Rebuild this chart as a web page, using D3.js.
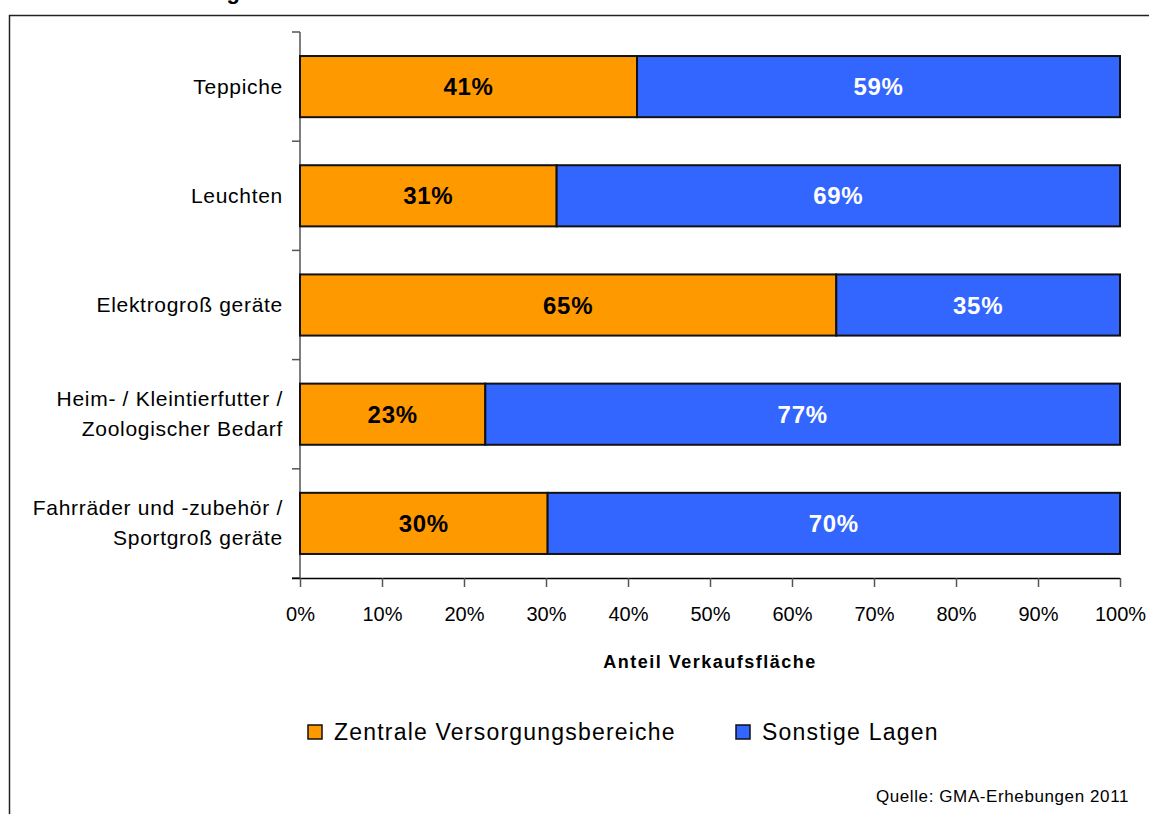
<!DOCTYPE html>
<html>
<head>
<meta charset="utf-8">
<script src="https://cdn.jsdelivr.net/npm/d3@7"></script>
<style>
  body { margin: 0; background: #fff; }
  svg { display: block; font-family: "Liberation Sans", Arial, sans-serif; }
</style>
</head>
<body>
<div id="vis-container"></div>
<script>
// Categories (top to bottom), label lines
const categories = ["Teppiche", "Leuchten", "Elektrogroßgeräte", "Heim-/Kleintierfutter", "Fahrräder"];
const categoryLines = [
  ["Teppiche"],
  ["Leuchten"],
  ["Elektrogroß geräte"],
  ["Heim- / Kleintierfutter /", "Zoologischer Bedarf"],
  ["Fahrräder und -zubehör /", "Sportgroß geräte"]
];
// Share of sales area in percent
const zentral = [41.1, 31.3, 65.4, 22.6, 30.2];
const sonstige = [58.9, 68.7, 34.6, 77.4, 69.8];
const zentralLabels = ["41%", "31%", "65%", "23%", "30%"];
const sonstigeLabels = ["59%", "69%", "35%", "77%", "70%"];
const xTicks = [0, 10, 20, 30, 40, 50, 60, 70, 80, 90, 100];
const seriesNames = ["Zentrale Versorgungsbereiche", "Sonstige Lagen"];
const seriesColors = ["#FF9900", "#3366FF"];

const width = 1149, height = 814;
const margin = { top: 32, right: 29, bottom: 236, left: 300 };

const svg = d3.select("#vis-container")
  .append("svg")
  .attr("width", width)
  .attr("height", height);

// title (cut off at the top, as in the original) and frame
svg.append("text")
  .attr("x", 120)
  .attr("y", -1)
  .attr("font-size", "22px")
  .attr("font-weight", "bold")
  .attr("letter-spacing", "1.5px")
  .text("Verteilung nach Stadtteilen");

svg.append("rect")
  .attr("x", 9.5)
  .attr("y", 15.5)
  .attr("width", 1200)
  .attr("height", 900)
  .attr("fill", "none")
  .attr("stroke", "#222")
  .attr("stroke-width", 1.5);

// Scales
const xScale = d3.scaleLinear()
  .domain([0, 100])
  .range([margin.left, width - margin.right]);

const yScale = d3.scaleBand()
  .domain(categories)
  .range([margin.top, height - margin.bottom])
  .paddingInner(0.44)
  .paddingOuter(0.22);

// band boundaries for y ticks
const step = yScale.step();
const bandEdges = d3.range(categories.length + 1).map(i => margin.top + i * step);

// Y axis line + ticks between categories
svg.append("line")
  .attr("x1", margin.left).attr("x2", margin.left)
  .attr("y1", margin.top).attr("y2", height - margin.bottom)
  .attr("stroke", "#555").attr("stroke-width", 1.5);

svg.selectAll(".ytick")
  .data(bandEdges)
  .enter()
  .append("line")
  .attr("class", "ytick")
  .attr("x1", margin.left - 8).attr("x2", margin.left)
  .attr("y1", d => d).attr("y2", d => d)
  .attr("stroke", "#555").attr("stroke-width", 1.5);

// Y labels
svg.selectAll(".ylabel")
  .data(categories)
  .enter()
  .append("text")
  .attr("class", "ylabel")
  .attr("text-anchor", "end")
  .attr("font-size", "21px")
  .attr("letter-spacing", "0.7px")
  .attr("fill", "#000")
  .each(function(d, i) {
    const lines = categoryLines[i];
    const cy = yScale(d) + yScale.bandwidth() / 2;
    const lh = 30;
    const y0 = cy - (lines.length - 1) * lh / 2 + 7;
    d3.select(this).selectAll("tspan")
      .data(lines)
      .enter()
      .append("tspan")
      .attr("x", margin.left - 17)
      .attr("y", (l, j) => y0 + j * lh)
      .text(l => l);
  });

// X axis
const xAxis = svg.append("g")
  .attr("transform", `translate(0,${height - margin.bottom})`)
  .call(d3.axisBottom(xScale)
    .tickValues(xTicks)
    .tickFormat(d => d + "%")
    .tickSize(9)
    .tickSizeOuter(0)
    .tickPadding(20));
xAxis.select(".domain")
  .attr("d", `M${margin.left - 8},0.5H${width - margin.right}`)
  .attr("stroke", "#000").attr("stroke-width", 1.5);
xAxis.selectAll(".tick line").attr("stroke", "#555").attr("stroke-width", 1.5);
xAxis.selectAll(".tick text")
  .attr("font-size", "20px")
  .attr("font-family", "Liberation Sans, Arial, sans-serif")
  .attr("fill", "#000");

svg.append("text")
  .attr("x", (margin.left + width - margin.right) / 2)
  .attr("y", 668)
  .attr("text-anchor", "middle")
  .attr("font-size", "18px")
  .attr("font-weight", "bold")
  .attr("letter-spacing", "1.5px")
  .text("Anteil Verkaufsfläche");

// Bars
const rows = categories.map((c, i) => ({ cat: c, z: zentral[i], s: sonstige[i], zl: zentralLabels[i], sl: sonstigeLabels[i] }));

svg.selectAll(".barZ")
  .data(rows)
  .enter()
  .append("rect")
  .attr("class", "barZ")
  .attr("x", xScale(0))
  .attr("y", d => yScale(d.cat))
  .attr("width", d => xScale(d.z) - xScale(0))
  .attr("height", yScale.bandwidth())
  .attr("fill", seriesColors[0])
  .attr("stroke", "#111")
  .attr("stroke-width", 2);

svg.selectAll(".barS")
  .data(rows)
  .enter()
  .append("rect")
  .attr("class", "barS")
  .attr("x", d => xScale(d.z))
  .attr("y", d => yScale(d.cat))
  .attr("width", d => xScale(d.z + d.s) - xScale(d.z))
  .attr("height", yScale.bandwidth())
  .attr("fill", seriesColors[1])
  .attr("stroke", "#111")
  .attr("stroke-width", 2);

// Bar labels
svg.selectAll(".labZ")
  .data(rows)
  .enter()
  .append("text")
  .attr("class", "labZ")
  .attr("x", d => xScale(d.z / 2))
  .attr("y", d => yScale(d.cat) + yScale.bandwidth() / 2 + 8.5)
  .attr("text-anchor", "middle")
  .attr("font-size", "24px")
  .attr("font-weight", "bold")
  .attr("letter-spacing", "0.7px")
  .attr("fill", "#000")
  .text(d => d.zl);

svg.selectAll(".labS")
  .data(rows)
  .enter()
  .append("text")
  .attr("class", "labS")
  .attr("x", d => xScale(d.z + d.s / 2))
  .attr("y", d => yScale(d.cat) + yScale.bandwidth() / 2 + 8.5)
  .attr("text-anchor", "middle")
  .attr("font-size", "24px")
  .attr("font-weight", "bold")
  .attr("letter-spacing", "0.7px")
  .attr("fill", "#fff")
  .text(d => d.sl);

// Legend
const legendX = [308, 736];
const legend = svg.selectAll(".legend")
  .data(seriesNames)
  .enter()
  .append("g")
  .attr("class", "legend")
  .attr("transform", (d, i) => `translate(${legendX[i]},725)`);

legend.append("rect")
  .attr("width", 14).attr("height", 14)
  .attr("fill", (d, i) => seriesColors[i])
  .attr("stroke", "#111").attr("stroke-width", 1.5);

legend.append("text")
  .attr("x", 26)
  .attr("y", 15)
  .attr("font-size", "23px")
  .attr("letter-spacing", "1.2px")
  .attr("fill", "#000")
  .text(d => d);

// Source
svg.append("text")
  .attr("x", 1129)
  .attr("y", 802)
  .attr("text-anchor", "end")
  .attr("font-size", "17px")
  .attr("letter-spacing", "0.6px")
  .text("Quelle: GMA-Erhebungen 2011");
</script>
</body>
</html>
